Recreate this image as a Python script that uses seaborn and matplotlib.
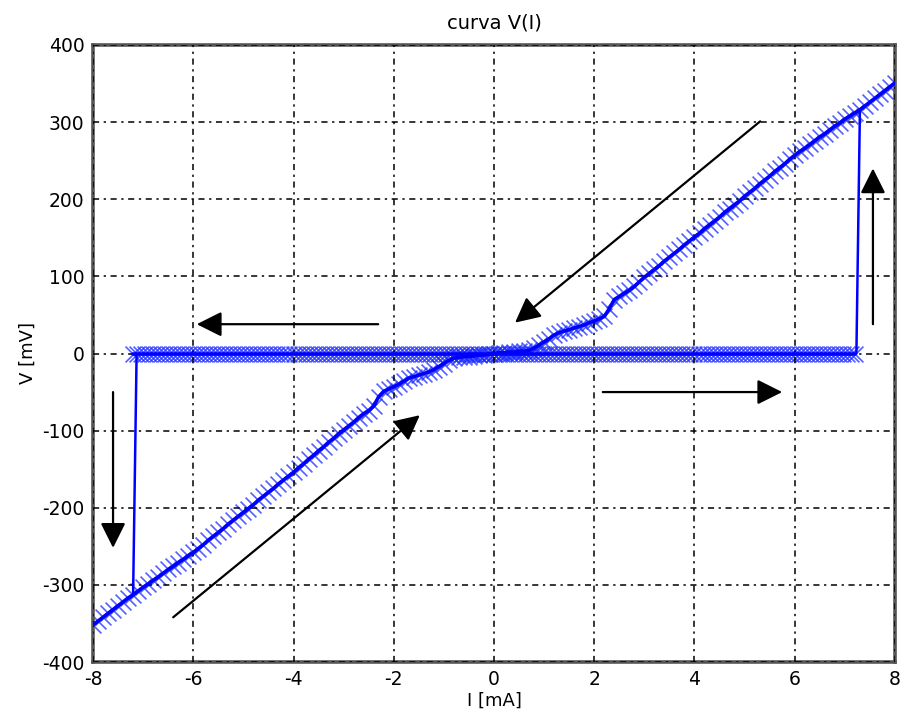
import numpy as np
import pandas as pd
import matplotlib
matplotlib.use("Agg")
import matplotlib.pyplot as plt
import seaborn as sns

# Current sweep on the resistive branch, -8 .. 8 mA in 0.1 mA steps
I_branch = np.round(np.arange(-80, 81) / 10, 1)
V_branch = [
    -352, -347, -342, -337, -332, -327, -322, -317, -313, -308,
    -303, -299, -294, -290, -285, -280, -276, -271, -267, -262,
    -258, -253, -248, -242, -237, -232, -227, -221, -216, -211,
    -206, -201, -196, -190, -185, -180, -175, -169, -164, -159,
    -154, -148, -143, -137, -132, -126, -121, -115, -110, -104,
    -99, -94, -89, -83, -78, -74, -68, -56, -49, -46,
    -43, -40, -36, -32, -30, -28, -26, -24, -21, -17,
    -13, -9, -6, -5, -4, -4, -3, -2, -2, -1,
    0, 1, 1, 2, 2, 3, 3, 4, 7, 11,
    15, 19, 24, 27, 29, 31, 33, 35, 37, 40,
    42, 45, 48, 58, 70, 74, 78, 82, 87, 93,
    99, 104, 109, 114, 120, 125, 130, 135, 141, 146,
    151, 156, 162, 167, 172, 177, 183, 188, 193, 198,
    204, 209, 214, 220, 225, 230, 236, 241, 246, 252,
    257, 262, 266, 271, 276, 281, 285, 290, 295, 299,
    304, 308, 312, 316, 321, 326, 331, 336, 341, 346,
    351,
]

# Superconducting (zero-voltage) branch, swept in 0.08 mA steps
I_zero = np.round(np.arange(-90, 91) * 0.08, 2)
V_zero = [0.0] * len(I_zero)

# Switching jumps (I, V) end points
I_jump_pos = [7.23, 7.30]
V_jump_pos = [0, 316]
I_jump_neg = [-7.13, -7.20]
V_jump_neg = [0, -313]

# Sweep direction arrows: (I_start, V_start, I_end, V_end)
arrows = [
    (-2.31, 38, -5.93, 38),
    (2.17, -50, 5.75, -50),
    (7.56, 38, 7.56, 240),
    (-7.60, -50, -7.60, -252),
    (5.31, 301, 0.42, 40),
    (-6.40, -342, -1.48, -80),
]

x_ticks = [-8, -6, -4, -2, 0, 2, 4, 6, 8]
y_ticks = [-400, -300, -200, -100, 0, 100, 200, 300, 400]

sns.set_style("white")
plt.rcParams["font.family"] = ["DejaVu Sans"]
plt.rcParams["text.color"] = "black"
plt.rcParams["axes.labelcolor"] = "black"

fig = plt.figure(figsize=(9.03, 7.13), dpi=100)
ax = fig.add_axes([93 / 903, 1 - 662 / 713, (895 - 93) / 903, (662 - 45) / 713])

branch = pd.DataFrame({"I": I_branch, "V": V_branch})
zero = pd.DataFrame({"I": I_zero, "V": V_zero})

blue = "#0000ff"
for df in (branch, zero):
    sns.scatterplot(data=df, x="I", y="V", ax=ax, marker="x", s=130,
                    color="#1a2bff", linewidth=1.2, alpha=0.75, zorder=2)
    sns.lineplot(data=df, x="I", y="V", ax=ax, color=blue, lw=2.6,
                 sort=False, estimator=None, zorder=3)

for xs, ys in ((I_jump_pos, V_jump_pos), (I_jump_neg, V_jump_neg)):
    sns.lineplot(x=xs, y=ys, ax=ax, color=blue, lw=1.8, sort=False,
                 estimator=None, zorder=3)

for x0, y0, x1, y1 in arrows:
    ax.annotate("", xy=(x1, y1), xytext=(x0, y0),
                arrowprops=dict(arrowstyle="-|>,head_length=0.9,head_width=0.45",
                                mutation_scale=17, lw=1.6, color="black",
                                shrinkA=0, shrinkB=0), zorder=5)

ax.set_xlim(-8, 8)
ax.set_ylim(-400, 400)
ax.set_xticks(x_ticks)
ax.set_yticks(y_ticks)
ax.set_xticklabels([str(t) for t in x_ticks])
ax.set_yticklabels([str(t) for t in y_ticks])
ax.tick_params(length=0, pad=6, labelsize=13.5, colors="black")

ax.set_axisbelow(False)
ax.grid(True, color="black", lw=1.1, linestyle=(0, (4, 3, 1.5, 3)), zorder=4)

for s in ax.spines.values():
    s.set_visible(True)
    s.set_color("#555555")
    s.set_linewidth(2.6)

ax.set_title("curva V(I)", fontsize=14, pad=12, color="black")
ax.set_xlabel("I [mA]", fontsize=13, labelpad=2, color="black")
ax.set_ylabel("V [mV]", fontsize=13, labelpad=4, color="black")

fig.savefig("out.png", dpi=100)
